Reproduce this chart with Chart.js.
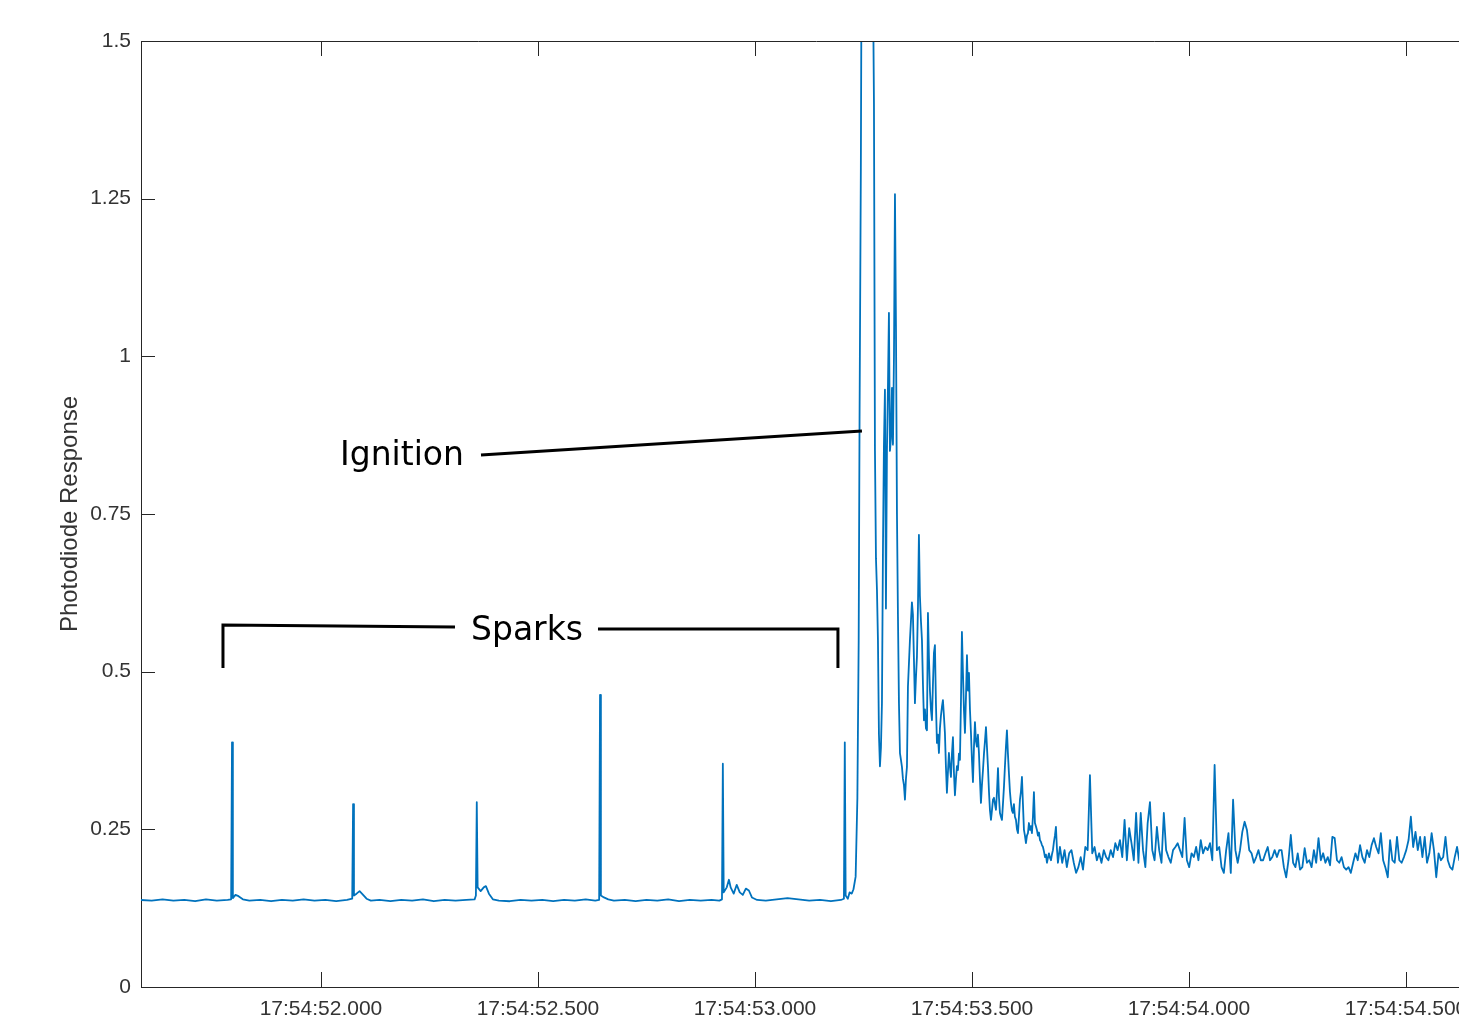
<!DOCTYPE html>
<html>
<head>
<meta charset="utf-8">
<title>Photodiode Response</title>
<script src="https://cdn.jsdelivr.net/npm/chart.js@4.4.1/dist/chart.umd.min.js"></script>
<style>
  html, body { margin: 0; padding: 0; background: #fff; overflow: hidden; }
  #wrap { width: 1500px; height: 1030px; }
</style>
</head>
<body>
<div id="wrap"><canvas id="grafico" width="1500" height="1030"></canvas></div>
<script>
// tiempo en ms desde 17:54:51.000 , respuesta del fotodiodo
// tramo de chispas (linea base + picos)
const sparkSection = [
  [585,0.138],[610,0.137],[635,0.139],[660,0.137],[685,0.138],[710,0.136],[735,0.139],[760,0.137],[785,0.138],
  [793,0.139],[795,0.388],[797,0.141],[803,0.146],[810,0.144],[820,0.139],[835,0.137],[860,0.138],[885,0.136],
  [910,0.138],[935,0.137],[960,0.139],[985,0.137],[1010,0.138],[1035,0.136],[1060,0.138],
  [1072,0.140],[1074,0.290],[1076,0.145],[1082,0.148],[1089,0.152],[1096,0.147],[1105,0.140],[1115,0.137],
  [1135,0.138],[1160,0.136],[1185,0.138],[1210,0.137],[1235,0.139],[1260,0.136],[1285,0.138],[1310,0.137],[1335,0.138],
  [1354,0.139],[1357,0.145],[1359,0.293],[1361,0.158],[1368,0.152],[1375,0.158],[1380,0.160],[1387,0.148],[1396,0.139],
  [1410,0.137],[1435,0.136],[1460,0.138],[1485,0.137],[1510,0.138],[1535,0.136],[1560,0.138],[1585,0.137],[1610,0.139],[1632,0.137],
  [1641,0.138],[1643,0.463],[1645,0.145],[1652,0.142],[1662,0.139],[1675,0.137],
  [1700,0.138],[1725,0.136],[1750,0.138],[1775,0.137],[1800,0.139],[1825,0.136],[1850,0.138],[1875,0.137],[1900,0.138],[1918,0.137],
  [1924,0.139],[1926,0.354],[1928,0.150],[1935,0.158],[1940,0.170],[1944,0.158],[1951,0.148],[1958,0.162],[1965,0.150],
  [1972,0.146],[1979,0.156],[1986,0.153],[1993,0.142],[2005,0.138],
  [2025,0.137],[2050,0.139],[2075,0.141],[2100,0.139],[2125,0.137],[2150,0.138],[2175,0.136],[2198,0.138],
  [2205,0.140],[2207,0.388],[2209,0.145],[2214,0.140],[2218,0.150],[2223,0.148],[2227,0.155],[2232,0.175],
  [2236,0.30],[2239,0.55],[2241,0.9],[2244,1.3],[2246,1.7]
];

// ignicion y decaimiento
const ignitionSection = [
  [2253.5,2.0],[2265.0,2.1],[2271.9,1.6],[2274.2,1.4],[2276.5,0.85],[2278.8,0.68],[2281.1,0.63],[2283.4,0.55],
  [2285.7,0.40],[2288.0,0.35],[2290.3,0.38],[2292.6,0.45],[2295.0,0.70],[2297.2,0.86],[2299.5,0.947],[2301.8,0.60],
  [2304.1,0.85],[2306.4,0.95],[2308.7,1.069],[2311.0,0.85],[2313.4,0.87],[2315.7,0.95],[2318.0,0.86],[2320.3,1.0],
  [2322.6,1.257],[2324.9,1.05],[2327.2,0.75],[2329.5,0.587],[2331.8,0.45],[2334.1,0.371],[2336.4,0.36],[2338.7,0.349],
  [2341.0,0.33],[2343.3,0.32],[2345.6,0.297],[2347.9,0.33],[2350.2,0.349],[2352.5,0.476],[2357.1,0.55],[2361.7,0.61],
  [2364.0,0.59],[2366.3,0.52],[2368.6,0.45],[2370.9,0.49],[2373.2,0.523],[2375.5,0.60],[2377.8,0.717],[2380.1,0.62],
  [2382.5,0.58],[2384.8,0.55],[2387.1,0.48],[2389.4,0.423],[2391.7,0.44],[2394.0,0.41],[2396.3,0.407],[2398.6,0.593],
  [2401.0,0.52],[2403.2,0.47],[2405.5,0.44],[2407.8,0.423],[2410.1,0.48],[2412.4,0.53],[2414.7,0.542],[2417.0,0.45],
  [2419.3,0.387],[2421.6,0.40],[2423.9,0.371],[2426.2,0.41],[2428.5,0.43],[2430.8,0.444],[2433.1,0.455],[2435.4,0.43],
  [2437.7,0.403],[2440.0,0.35],[2442.3,0.308],[2444.6,0.34],[2446.9,0.371],[2449.2,0.35],[2451.6,0.333],[2453.9,0.37],
  [2456.2,0.396],[2458.5,0.34],[2460.8,0.304],[2463.1,0.33],[2465.4,0.35],[2467.7,0.344],[2470.0,0.37],[2472.3,0.36],
  [2474.6,0.45],[2476.9,0.563],[2479.2,0.50],[2481.5,0.44],[2483.9,0.403],[2486.2,0.46],[2488.5,0.526],[2490.8,0.47],
  [2493.1,0.498],[2495.4,0.44],[2497.7,0.403],[2500.0,0.36],[2502.3,0.325],[2504.6,0.38],[2506.9,0.420],[2509.2,0.39],
  [2511.5,0.381],[2513.8,0.40],[2516.1,0.371],[2518.4,0.33],[2520.7,0.292],[2523.0,0.32],[2525.4,0.344],[2527.7,0.37],
  [2530.0,0.39],[2532.3,0.412],[2534.6,0.38],[2536.9,0.349],[2539.2,0.31],[2541.5,0.28],[2543.8,0.265],[2546.1,0.28],
  [2548.4,0.297],[2550.7,0.30],[2553.0,0.29],[2555.3,0.281],[2557.7,0.31],[2560.0,0.347],[2562.3,0.30],[2564.5,0.276],
  [2566.8,0.27],[2569.1,0.265],[2571.4,0.29],[2573.7,0.317],[2576.0,0.35],[2578.3,0.381],[2580.6,0.407],[2582.9,0.37],
  [2585.2,0.339],[2587.5,0.31],[2589.8,0.292],[2592.1,0.28],[2594.4,0.276],[2596.7,0.29],[2599.0,0.27],[2601.4,0.265],
  [2603.7,0.25],[2606.0,0.244],[2608.3,0.27],[2610.6,0.297],[2612.9,0.31],[2615.2,0.333],[2617.5,0.29],[2619.8,0.249],
  [2622.1,0.24],[2624.4,0.228],[2626.7,0.24],[2629.0,0.244],[2631.3,0.26],[2633.6,0.249],[2635.9,0.255],[2638.2,0.244],
  [2640.5,0.27],[2642.8,0.309],[2645.1,0.26],[2647.4,0.255],[2649.7,0.249],[2652.0,0.24],[2654.4,0.245],[2656.7,0.233],
  [2659.0,0.23],[2661.3,0.225],[2663.6,0.222],[2665.9,0.215],[2668.2,0.206],[2670.5,0.21],[2672.8,0.197],[2675.1,0.205],
  [2677.4,0.212],[2679.7,0.205],[2682.0,0.201],[2684.3,0.21],[2686.6,0.217],[2688.9,0.23],[2691.2,0.24],[2693.5,0.254],
  [2695.8,0.22],[2698.1,0.197]
];

// cola ruidosa, muestreo regular
const tailStartMs = 2702.7;
const tailStepMs = 5.32;
const tailValues = [
  0.222,0.197,0.217,0.190,0.212,0.217,0.197,0.181,0.190,0.206,
  0.186,0.222,0.217,0.336,0.212,0.222,0.201,0.212,0.197,0.217,
  0.206,0.201,0.217,0.206,0.228,0.217,0.233,0.206,0.265,0.201,
  0.252,0.228,0.201,0.276,0.197,0.276,0.217,0.190,0.260,0.293,
  0.217,0.201,0.254,0.217,0.197,0.276,0.217,0.206,0.197,0.217,
  0.222,0.228,0.217,0.206,0.268,0.201,0.190,0.212,0.206,0.222,
  0.201,0.233,0.212,0.222,0.217,0.228,0.201,0.352,0.217,0.222,
  0.190,0.181,0.217,0.244,0.181,0.297,0.217,0.197,0.217,0.246,
  0.262,0.249,0.217,0.212,0.197,0.206,0.217,0.201,
  0.201,0.212,0.222,0.201,0.206,0.217,0.206,0.217,0.217,0.190,
  0.174,0.201,0.241,0.197,0.190,0.212,0.186,0.190,0.220,0.197,
  0.201,0.190,0.217,0.197,0.236,0.201,0.212,0.197,0.206,0.193,
  0.238,0.236,0.201,0.197,0.206,0.190,0.186,0.190,0.181,0.197,
  0.212,0.201,0.225,0.206,0.197,0.217,0.206,0.225,0.236,0.222,
  0.212,0.244,0.201,0.189,0.174,0.233,0.201,0.197,0.238,0.201,
  0.197,0.206,0.217,0.233,0.270,0.222,0.246,0.217,0.238,0.206,
  0.238,0.197,0.212,0.244,0.217,0.174,0.212,0.201,0.206,0.238,
  0.201,0.190,0.186,
  0.206,0.222,0.201,0.212,0.233,0.197,0.190,0.217,0.206,0.225,
  0.201,0.193,0.212,0.228,0.206,0.197,0.215,0.203
];

// ejes
const xMinMs = 585.3;
const xMaxMs = 3698.3;
const xTicks = [1000, 1500, 2000, 2500, 3000, 3500];
const yTicks = [0, 0.25, 0.5, 0.75, 1, 1.25, 1.5];
const yTickLabels = ["0", "0.25", "0.5", "0.75", "1", "1.25", "1.5"];

// anotaciones (coordenadas de datos)
const ignitionLabel = { text: "Ignition", x: 1186.6, y: 0.828 };
const ignitionLine = [[1368.7, 0.8435], [2246.5, 0.8816]];
const sparksLabel = { text: "Sparks", x: 1474.7, y: 0.550 };
const sparksLeft = [[774.2, 0.5058], [774.2, 0.574], [1308.8, 0.5708]];
const sparksRight = [[1638.3, 0.5676], [2191.2, 0.5676], [2191.2, 0.5058]];

function formatoHora(ms) {
  let s = 51 + ms / 1000;
  return "17:54:" + s.toFixed(3);
}

function construirPuntos() {
  let puntos = [];
  sparkSection.forEach(p => puntos.push({ x: p[0], y: p[1] }));
  ignitionSection.forEach(p => puntos.push({ x: p[0], y: p[1] }));
  tailValues.forEach((v, i) => puntos.push({ x: tailStartMs + i * tailStepMs, y: v }));
  return puntos;
}

// marco superior, ticks hacia dentro y anotaciones
const marcoPlugin = {
  id: "marco",
  afterDatasetsDraw(chart) {
    const { ctx, chartArea, scales } = chart;
    const sx = scales.x, sy = scales.y;
    ctx.save();
    ctx.strokeStyle = "#262626";
    ctx.lineWidth = 1;
    ctx.beginPath();
    ctx.moveTo(chartArea.left, chartArea.top + 0.5);
    ctx.lineTo(chartArea.right, chartArea.top + 0.5);
    xTicks.forEach(v => {
      let px = Math.round(sx.getPixelForValue(v)) + 0.5;
      ctx.moveTo(px, chartArea.bottom);
      ctx.lineTo(px, chartArea.bottom - 15);
      ctx.moveTo(px, chartArea.top);
      ctx.lineTo(px, chartArea.top + 15);
    });
    yTicks.forEach(v => {
      let py = Math.round(sy.getPixelForValue(v)) + 0.5;
      ctx.moveTo(chartArea.left, py);
      ctx.lineTo(chartArea.left + 14, py);
    });
    ctx.stroke();

    // anotaciones
    ctx.strokeStyle = "#000";
    ctx.lineWidth = 3;
    [ignitionLine, sparksLeft, sparksRight].forEach(linea => {
      ctx.beginPath();
      linea.forEach((p, i) => {
        let px = sx.getPixelForValue(p[0]), py = sy.getPixelForValue(p[1]);
        if (i === 0) ctx.moveTo(px, py); else ctx.lineTo(px, py);
      });
      ctx.stroke();
    });
    ctx.fillStyle = "#000";
    ctx.font = '33px "DejaVu Sans"';
    ctx.textAlign = "center";
    ctx.textBaseline = "alphabetic";
    [ignitionLabel, sparksLabel].forEach(lbl => {
      ctx.fillText(lbl.text, sx.getPixelForValue(lbl.x), sy.getPixelForValue(lbl.y));
    });
    ctx.restore();
  }
};

document.addEventListener("DOMContentLoaded", function() {
  let canvas = document.getElementById("grafico");
  let fuenteTicks = { family: '"Liberation Sans", Arial, sans-serif', size: 21 };

  let cfg = {
    type: "line",
    data: {
      datasets: [{
        label: "Photodiode Response",
        data: construirPuntos(),
        borderColor: "#0072BD",
        borderWidth: 1.8,
        borderJoinStyle: "round",
        pointRadius: 0,
        tension: 0,
        fill: false
      }]
    },
    options: {
      responsive: false,
      animation: false,
      events: [],
      layout: { padding: { left: 0, top: 41, right: 8, bottom: 0 } },
      plugins: { legend: { display: false }, tooltip: { enabled: false } },
      scales: {
        x: {
          type: "linear",
          min: xMinMs,
          max: xMaxMs,
          afterBuildTicks: scale => { scale.ticks = xTicks.map(v => ({ value: v })); },
          afterFit: scale => { scale.height = 43; },
          grid: { display: false, drawTicks: false },
          border: { display: true, color: "#262626", width: 1 },
          ticks: {
            autoSkip: false,
            maxRotation: 0,
            padding: 10,
            color: "#333",
            font: fuenteTicks,
            callback: v => formatoHora(v)
          }
        },
        y: {
          min: 0,
          max: 1.5,
          afterBuildTicks: scale => { scale.ticks = yTicks.map(v => ({ value: v })); },
          afterFit: scale => { scale.width = 141; },
          grid: { display: false, drawTicks: false },
          border: { display: true, color: "#262626", width: 1 },
          ticks: {
            padding: 10,
            color: "#333",
            font: fuenteTicks,
            callback: v => yTickLabels[yTicks.indexOf(v)]
          },
          title: {
            display: true,
            text: "Photodiode Response",
            color: "#333",
            font: { family: '"Liberation Sans", Arial, sans-serif', size: 24, lineHeight: 1.2 },
            padding: { top: 56, bottom: 0 }
          }
        }
      }
    },
    plugins: [marcoPlugin]
  };

  let draw = new Chart(canvas, cfg);
});
</script>
</body>
</html>
